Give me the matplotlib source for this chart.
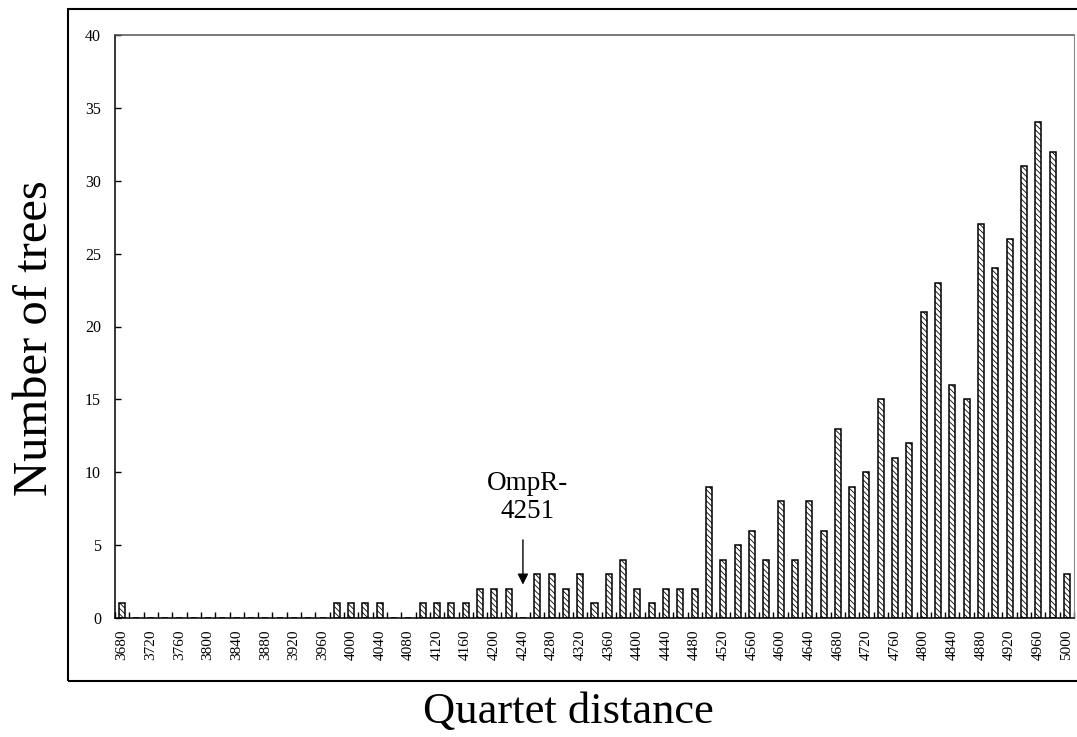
import matplotlib
matplotlib.use("Agg")
import matplotlib.pyplot as plt
import numpy as np

# quartet distance bins (step 20) and number of trees in each
bins = list(range(3680, 5001, 20))
counts = [1, 0, 0, 0, 0, 0, 0, 0, 0, 0,
          0, 0, 0, 0, 0, 1, 1, 1, 1, 0,
          0, 1, 1, 1, 1, 2, 2, 2, 0, 3,
          3, 2, 3, 1, 3, 4, 2, 1, 2, 2,
          2, 9, 4, 5, 6, 4, 8, 4, 8, 6,
          13, 9, 10, 15, 11, 12, 21, 23, 16, 15,
          27, 24, 26, 31, 34, 32, 3]
tick_labels = [str(b) for b in bins[::2]]
marker_bin = 4240
marker_text = "OmpR-\n4251"

plt.rcParams['hatch.linewidth'] = 0.6

fig = plt.figure(figsize=(10.77, 7.37), dpi=100)
ax = fig.add_axes([115/1077, 1 - 618/737, (1074 - 115)/1077, (618 - 35)/737])

x = np.arange(len(bins))
ax.bar(x, counts, width=0.42, color='white', edgecolor='black',
       linewidth=1.1, hatch='\\\\\\\\\\\\')

ax.set_xlim(-0.5, len(bins) - 0.5)
ax.set_ylim(0, 40)

# ticks
ax.set_yticks(range(0, 41, 5))
ax.tick_params(axis='y', direction='in', length=4, width=1, pad=10,
               labelsize=11.5)
ax.set_xticks(x[::2])
ax.set_xticklabels(tick_labels, rotation=90, fontsize=11)
ax.set_xticks(np.arange(-0.5, len(bins), 1), minor=True)
ax.tick_params(axis='x', which='major', length=0, pad=8)
ax.tick_params(axis='x', which='minor', direction='in', length=4, width=1)
for lab in ax.get_xticklabels() + ax.get_yticklabels():
    lab.set_family('Liberation Serif')

for s in ['left', 'bottom', 'top']:
    ax.spines[s].set_linewidth(1.1)
ax.spines['right'].set_color('#888888')
ax.spines['top'].set_color('#555555')

# arrow for OmpR
mx = bins.index(marker_bin)
ax.annotate('', xy=(mx, 2.1), xytext=(mx, 5.55),
            arrowprops=dict(arrowstyle='-|>', color='black', lw=1,
                            mutation_scale=16))
ax.text(mx + 0.3, 8.27, marker_text, ha='center', va='center',
        family='Liberation Serif', fontsize=19.5, linespacing=1.2)

fig.text(35/1077, 1 - 338/737, 'Number of trees', rotation=90,
         ha='center', va='center', family='Liberation Serif', fontsize=35)
fig.text(568/1077, 1 - 712/737, 'Quartet distance', ha='center',
         va='center', family='Liberation Serif', fontsize=32)

# outer chart border
fig.patches.append(plt.Rectangle((68/1077, 1 - 681/737), 1.0, (681 - 9)/737,
                                 transform=fig.transFigure, fill=False,
                                 edgecolor='black', linewidth=1.5))

fig.savefig('out.png', dpi=100)
